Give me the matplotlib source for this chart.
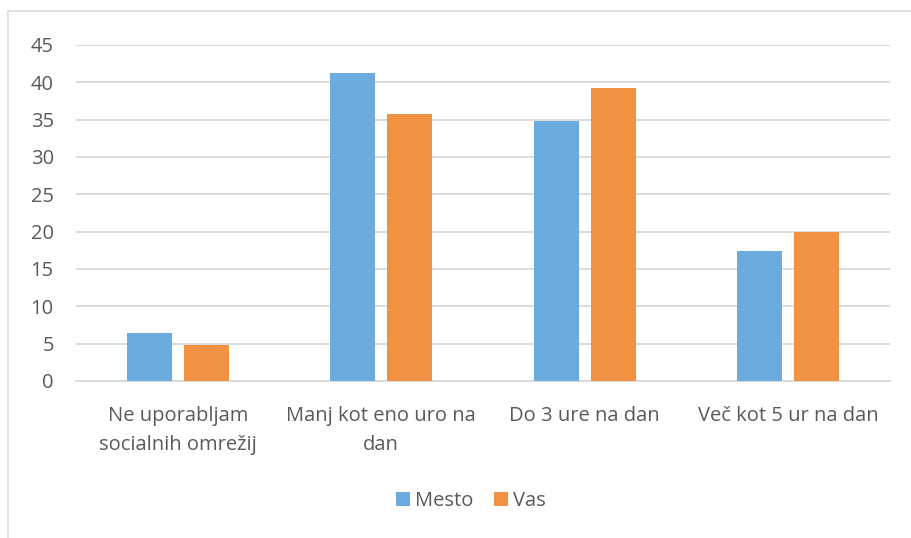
import numpy as np
import matplotlib
matplotlib.use('Agg')
import matplotlib.pyplot as plt
from matplotlib.patches import Rectangle

plt.rcParams['font.family'] = ['Open Sans', 'DejaVu Sans']

categories = ['Ne uporabljam\nsocialnih omrežij', 'Manj kot eno uro na\ndan',
              'Do 3 ure na dan', 'Več kot 5 ur na dan']
mesto = [6.4, 41.2, 34.8, 17.4]
vas = [4.8, 35.7, 39.3, 20.0]
series_names = ['Mesto', 'Vas']
colors = ['#6CABDD', '#F19242']
fs = 14.5

fig = plt.figure(figsize=(9.12, 5.38), dpi=100)
ax = fig.add_axes([76/912, 1 - 381/538, (890-76)/912, (381-45)/538])

x = np.arange(len(categories))
w = 0.22
off = 0.14
ax.bar(x - off, mesto, w, color=colors[0], label=series_names[0], zorder=3)
ax.bar(x + off, vas, w, color=colors[1], label=series_names[1], zorder=3)

ax.set_xlim(-0.5, len(categories) - 0.5)
ax.set_ylim(0, 45)
ax.set_yticks(range(0, 50, 5))
ax.yaxis.grid(True, color='#D9D9D9', linewidth=1.3, zorder=0)
for s in ['top', 'right', 'left']:
    ax.spines[s].set_visible(False)
ax.spines['bottom'].set_color('#D9D9D9')
ax.spines['bottom'].set_linewidth(1.3)
ax.tick_params(axis='y', length=0, pad=16, labelsize=fs, labelcolor='#595959')
ax.tick_params(axis='x', length=0, pad=18, labelsize=fs, labelcolor='#595959')
ax.set_xticks(x)
ax.set_xticklabels(categories, linespacing=1.6)

leg = fig.legend(loc='center', bbox_to_anchor=(471/912, 1 - 501/538), ncol=2,
                 frameon=False, fontsize=fs, handlelength=0.7, handleheight=0.7,
                 handletextpad=0.25, columnspacing=1.0)
for t in leg.get_texts():
    t.set_color('#595959')

# chart area border (right edge lies outside the picture)
fig.patches.append(Rectangle((8/912, -0.01), 1.0, 1 - 11/538 + 0.01,
                             transform=fig.transFigure, fill=False,
                             edgecolor='#DEDEDE', linewidth=1.3))

fig.savefig('out.png', dpi=100)
